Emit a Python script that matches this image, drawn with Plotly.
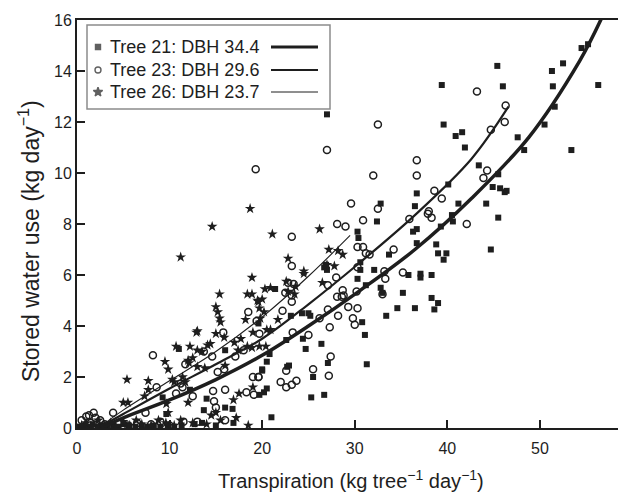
import plotly.graph_objects as go

# ---------------- data ----------------
t21_x = [0.3,0.8,1.2,1.7,2.2,2.8,3.3,3.9,4.5,5.0,5.6,6.3,7.0,7.6,8.3,9.0,9.8,10.5,11.3,12.7,13.5,15.0,16.9,
         9.65,9.25,11.0,12.2,14.0,13.7,16.0,16.8,16.0,20.0,21.0,
         27.0,36.7,32.8,36.5,32.4,36.7,36.3,30.3,30.4,36.7,39.0,39.9,39.6,33.7,30.6,30.6,32.1,35.8,37.1,37.1,38.3,
         30.3,31.2,26.7,26.9,27.0,32.8,33.0,35.2,38.3,39.0,38.6,36.5,34.6,33.4,30.8,31.1,21.4,23.1,24.3,25.0,25.2,
         19.6,24.4,22.6,26.4,24.7,20.8,20.5,27.1,31.3,20.0,22.7,22.9,25.5,19.7,20.5,20.2,25.3,26.7,
         45.4,39.4,46.0,51.3,52.5,51.4,56.3,54.5,55.2,39.6,40.9,41.6,41.9,51.6,50.5,47.6,48.3,53.4,43.4,45.5,
         44.9,45.7,46.2,46.4,40.1,44.2,41.2,40.6,40.5,45.5,39.3,38.8,44.7]
t21_y = [0.05,0.1,0.05,0.15,0.05,0.1,0.05,0.1,0.05,0.15,0.1,0.05,0.1,0.05,0.1,0.05,0.1,0.05,0.1,0.15,0.2,0.1,0.2,
         0.55,1.2,3.1,1.5,1.15,0.7,0.8,0.75,3.05,2.3,0.42,
         12.3,9.2,8.8,8.7,8.1,7.8,7.7,7.7,7.45,7.25,6.85,6.85,6.6,6.8,6.5,6.2,6.2,6.0,6.05,5.9,6.0,
         5.85,5.6,6.3,6.4,6.2,5.5,5.3,5.3,5.1,4.9,4.65,4.7,4.7,4.4,4.15,3.65,5.45,4.4,4.5,4.5,4.4,
         4.1,3.5,3.45,3.3,3.1,2.9,2.6,2.55,2.5,2.25,2.4,2.45,2.0,1.3,1.55,1.4,1.2,1.3,
         14.2,13.45,13.4,14.0,14.3,13.4,13.45,14.9,15.05,11.9,11.45,11.6,11.0,12.6,11.9,11.4,10.9,10.9,10.3,9.95,
         9.45,9.4,9.25,9.3,9.55,8.8,8.8,8.1,8.35,8.25,7.9,7.2,7.0]

t23_x = [0.5,1.0,1.3,1.8,2.0,1.5,2.5,3.0,3.9,4.5,5.5,6.5,7.4,8.0,9.0,10.0,11.5,13.0,16.0,
         8.2,8.6,18.5,15.8,13.7,14.6,11.7,15.9,15.2,11.2,11.4,19.4,17.1,18.0,19.0,18.3,19.1,14.7,14.8,15.0,16.0,
         12.5,10.7,19.6,
         32.5,27.0,19.3,36.7,36.7,32.0,29.6,32.5,30.9,28.1,29.0,23.2,35.9,37.9,30.3,30.9,31.2,31.6,34.2,35.2,
         33.2,33.3,30.3,23.2,28.0,27.1,28.7,28.8,30.2,33.0,28.1,28.6,23.2,23.2,22.8,23.4,22.5,22.2,29.3,27.1,
         30.3,28.2,29.8,30.0,26.2,27.3,23.3,25.0,19.7,27.4,25.5,27.2,19.6,22.0,22.6,23.2,23.7,22.6,
         43.2,46.3,46.2,44.7,44.3,43.9,38.6,39.4,38.0,38.3,42.1]
t23_y = [0.3,0.45,0.5,0.6,0.4,0.2,0.3,0.15,0.6,0.2,0.1,0.2,0.6,0.15,0.25,0.1,0.25,0.25,0.3,
         2.85,1.6,4.55,3.75,3.0,2.8,2.5,2.3,2.2,1.75,1.6,4.2,2.8,3.05,2.0,1.4,1.3,1.45,1.05,0.8,1.5,
         1.25,1.35,2.0,
         11.9,10.9,10.15,10.5,9.9,9.9,8.8,8.6,8.15,8.0,7.9,7.5,8.2,8.4,7.1,7.1,6.85,6.8,7.0,6.1,
         6.15,5.85,6.3,6.35,5.9,5.6,5.4,5.2,5.35,5.25,5.15,5.15,5.2,4.95,5.7,5.65,5.3,4.6,4.75,4.65,
         4.7,4.4,4.3,4.05,4.3,3.95,3.75,3.65,3.7,2.8,2.3,2.05,2.0,1.8,1.6,1.7,1.85,2.25,
         13.2,12.65,12.0,11.7,10.1,9.8,9.3,9.0,8.5,8.25,8.0]

t26_x = [0.5,1.0,1.6,2.3,3.0,3.6,4.2,5.0,5.7,6.4,7.0,8.0,8.8,9.6,10.5,11.2,12.5,14.0,15.5,17.2,18.5,
         11.2,18.9,15.4,18.4,18.9,19.5,15.0,15.2,15.4,15.5,18.2,13.0,12.9,15.0,15.9,19.0,14.1,14.4,17.7,
         12.2,10.7,13.0,13.5,18.4,18.9,12.0,12.5,12.1,9.5,9.85,13.0,13.8,17.0,17.4,16.0,10.3,10.5,5.4,7.7,
         7.7,7.3,11.4,11.7,12.0,9.65,9.85,5.0,5.5,15.0,14.5,16.9,17.5,19.0,14.6,
         18.7,21.1,26.2,27.2,28.2,28.7,22.8,24.5,24.5,27.0,27.8,26.5,22.6,23.6,23.5,22.8,20.3,20.9,
         19.6,20.0,19.7,20.2,19.8,21.7,20.5,20.9,19.7,20.4]
t26_y = [0.1,0.2,0.05,0.3,0.1,0.2,0.05,0.25,0.1,0.3,0.15,0.1,0.3,0.2,0.1,0.3,0.2,0.15,0.3,0.4,0.1,
         6.7,5.9,5.25,5.25,5.25,5.0,4.75,4.55,4.3,4.15,4.25,3.8,3.75,3.7,3.55,3.75,3.25,3.3,3.5,
         3.2,3.2,3.05,3.0,3.2,3.15,2.65,2.75,2.55,2.6,2.3,2.4,2.35,3.35,3.05,2.45,1.9,1.8,1.9,1.85,
         1.5,1.25,2.0,1.8,1.0,0.95,0.6,1.0,1.0,0.6,0.5,1.1,1.35,1.6,7.9,
         8.6,7.6,7.8,7.0,6.95,6.8,6.65,6.15,6.05,6.4,6.35,5.7,5.75,5.55,5.25,5.35,5.45,5.5,
         4.95,5.05,4.7,4.55,4.3,4.25,3.85,3.85,3.2,3.2]

# fitted curves
fit21_x = [2.5, 5, 10, 15, 20, 25, 30.6, 36.5, 42.6, 48.8, 54.3, 56.7]
fit21_y = [0.0, 0.4, 1.1, 1.9, 2.85, 4.0, 5.4, 7.0, 9.0, 11.4, 14.4, 16.1]
fit23_x = [2.5, 5, 10, 15, 20, 25, 30.6, 36.5, 42.6, 46.6]
fit23_y = [0.05, 0.55, 1.55, 2.5, 3.5, 4.85, 6.5, 8.35, 10.55, 12.6]
fit26_x = [2.5, 5, 10, 15, 20, 25, 29.5]
fit26_y = [0.05, 0.7, 1.85, 3.0, 4.35, 5.95, 7.55]

legend_labels = ["Tree 21: DBH 34.4", "Tree 23: DBH 29.6", "Tree 26: DBH 23.7"]
x_ticks = [0, 10, 20, 30, 40, 50]
y_ticks = [0, 2, 4, 6, 8, 10, 12, 14, 16]

INK = "#1e1e1e"
FONT = "Liberation Sans, Arial, sans-serif"

# page has an 8px body margin: figure is placed at (8, 8) in the screenshot
OFF = 8
FW, FH = 618, 485
L, T, W, H = 69, 12, 549, 408
def px(xs): return (xs - OFF - L) / W
def py(ys): return (T + H - (ys - OFF)) / H

fig = go.Figure()

fig.add_trace(go.Scatter(x=t21_x, y=t21_y, mode="markers",
                         marker=dict(symbol="square", size=6, color=INK, line=dict(width=0)),
                         showlegend=False))
fig.add_trace(go.Scatter(x=t23_x, y=t23_y, mode="markers",
                         marker=dict(symbol="circle-open", size=7, color=INK, line=dict(width=1.5, color=INK)),
                         showlegend=False))
fig.add_trace(go.Scatter(x=t26_x, y=t26_y, mode="markers",
                         marker=dict(symbol="star", size=8, color=INK, line=dict(width=0)),
                         showlegend=False))

fig.add_trace(go.Scatter(x=fit21_x, y=fit21_y, mode="lines",
                         line=dict(color=INK, width=3.5, shape="spline"), showlegend=False))
fig.add_trace(go.Scatter(x=fit23_x, y=fit23_y, mode="lines",
                         line=dict(color=INK, width=2.2, shape="spline"), showlegend=False))
fig.add_trace(go.Scatter(x=fit26_x, y=fit26_y, mode="lines",
                         line=dict(color=INK, width=1.1, shape="spline"), showlegend=False))

# ---- custom legend (marker, text, line sample) ----
fig.add_shape(type="rect", xref="paper", yref="paper",
              x0=px(87), x1=px(330), y0=py(109), y1=py(25),
              line=dict(color="#8c8c8c", width=1.5), fillcolor="white", layer="below")

rows = [47, 70, 92]
symbols = ["square", "circle-open", "star"]
msizes = [5, 6, 7]
lwidths = [3.2, 2.2, 1.0]
fig.add_trace(go.Scatter(x=[px(98)] * 3, y=[py(r) for r in rows], xaxis="x2", yaxis="y2",
                         mode="markers",
                         marker=dict(symbol=symbols, size=msizes, color=INK, line=dict(width=1.4, color=INK)),
                         showlegend=False, hoverinfo="skip"))
for r, lab, lw in zip(rows, legend_labels, lwidths):
    fig.add_annotation(xref="paper", yref="paper", x=px(108), y=py(r), text=lab,
                       showarrow=False, xanchor="left", yanchor="middle",
                       font=dict(family=FONT, size=18, color=INK))
    fig.add_shape(type="line", xref="paper", yref="paper",
                  x0=px(271), x1=px(318), y0=py(r), y1=py(r),
                  line=dict(color=INK, width=lw), layer="above")

# axis titles
fig.add_annotation(xref="paper", yref="paper", x=px(351), y=py(479),
                   text="Transpiration (kg tree<sup>−1</sup> day<sup>−1</sup>)",
                   showarrow=False, xanchor="center", yanchor="middle",
                   font=dict(family=FONT, size=20, color=INK))
fig.add_annotation(xref="paper", yref="paper", x=px(29), y=py(241),
                   text="Stored water use (kg day<sup>−1</sup>)", textangle=-90,
                   showarrow=False, xanchor="center", yanchor="middle",
                   font=dict(family=FONT, size=23, color=INK))

fig.update_layout(
    width=FW, height=FH,
    margin=dict(l=L, r=FW - L - W, t=T, b=FH - T - H, pad=0),
    paper_bgcolor="white", plot_bgcolor="white",
    font=dict(family=FONT, size=16, color=INK),
    xaxis=dict(range=[0, 59.3], tickvals=x_ticks, ticks="inside", ticklen=8, tickwidth=1.5,
               tickcolor=INK, showline=True, linecolor=INK, linewidth=2, mirror=True,
               showgrid=False, zeroline=False, tickfont=dict(size=16, color=INK),
               ticklabelstandoff=5),
    yaxis=dict(range=[0, 16], tickvals=y_ticks, ticks="inside", ticklen=8, tickwidth=1.5,
               tickcolor=INK, showline=True, linecolor=INK, linewidth=2,
               showgrid=False, zeroline=False, tickfont=dict(size=16, color=INK)),
    xaxis2=dict(overlaying="x", range=[0, 1], visible=False, anchor="y2"),
    yaxis2=dict(overlaying="y", range=[0, 1], visible=False, anchor="x2"),
)

fig.write_html("out.html")
